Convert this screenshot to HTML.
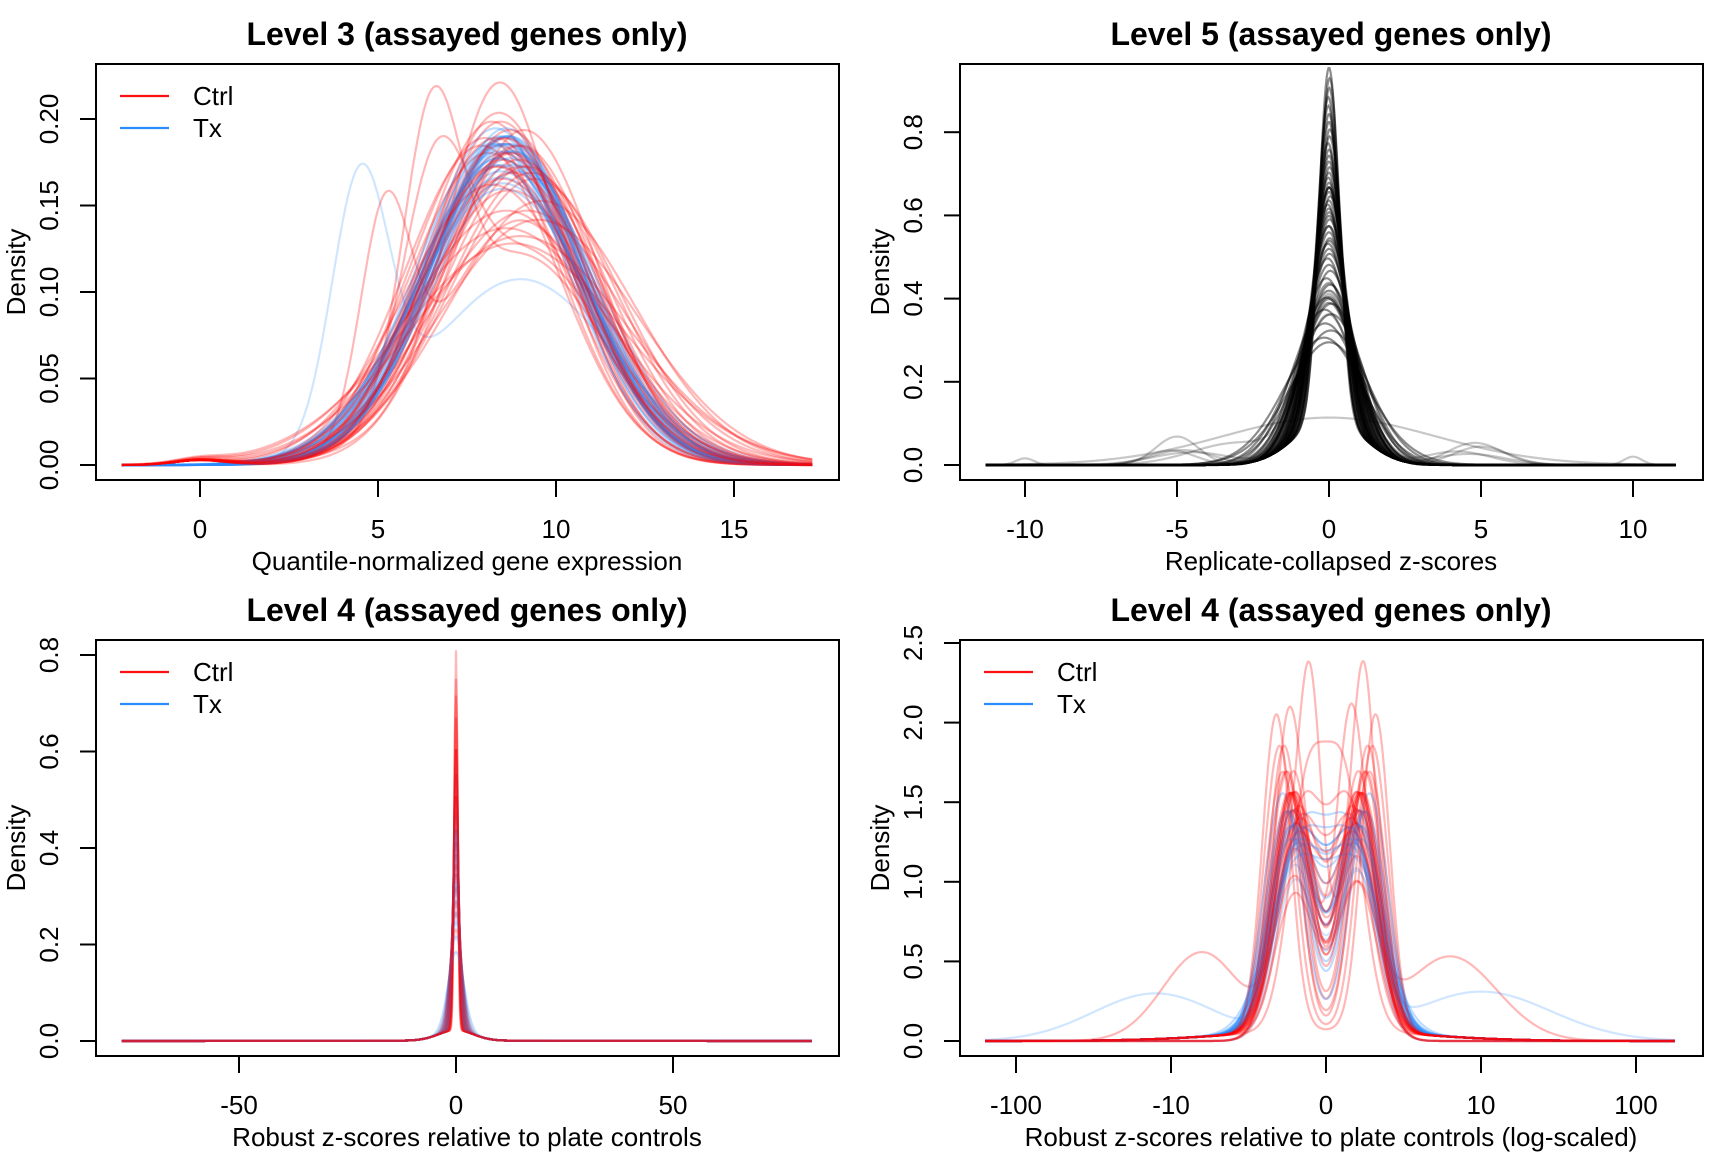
<!DOCTYPE html>
<html><head><meta charset="utf-8"><style>
html,body{margin:0;padding:0;background:#fff}
svg{display:block}
text{font-family:"Liberation Sans",sans-serif;fill:#000}
.t{font-weight:bold;font-size:32px}
.tk{font-size:26px}
.lb{font-size:26px}
</style></head><body>
<svg id="fig" width="1728" height="1152" viewBox="0 0 1728 1152" xmlns="http://www.w3.org/2000/svg"></svg>
<script>
// ---- Level 3 data (mean, sd of each density curve) ----
const l3CtrlMean=[8.6,8.4,8.8,8.2,9.0,8.5,8.7,9.2,8.0,8.9,8.3,9.4,8.6,8.8,8.4,9.1,8.1,9.6,8.5,8.7,7.9,9.3,8.6,9.0,8.2,8.95,8.45,9.5,8.3,8.8,8.55,9.15,8.7,8.5,9.0,8.4];
const l3CtrlSd=[2.1,2.15,2.2,2.0,2.3,2.4,2.5,2.7,2.1,2.15,2.3,2.4,2.9,3.1,1.95,2.05,2.2,2.6,2.2,2.05,2.15,2.35,2.7,3.0,2.45,2.25,2.0,2.8,2.1,2.35,2.1,2.3,2.2,2.25,2.15,2.3];
const l3TxMean=[8.5,8.6,8.4,8.7,8.3,8.8,8.55,8.45,8.65,8.35,8.75,8.5,8.6,8.4,8.2,8.9,8.5,8.7,8.3,8.6,8.45,8.55,8.8,8.4,8.6,8.5,8.7,8.4];
const l3TxSd=[2.15,2.1,2.2,2.25,2.05,2.3,2.15,2.35,2.1,2.15,2.2,2.45,2.05,2.25,2.15,2.35,2.5,2.1,2.3,2.15,2.4,2.1,2.2,2.25,2.2,2.3,2.15,2.1];
const l3OutMean1=[6.5,4.5,5.2,8.3,6.6];
const l3OutSd1=[0.8,0.8,0.7,1.3,0.9];
const l3OutW1=[0.3,0.3,0.22,0.45,0.25];
const l3OutMean2=[9.0,9.0,9.0,9.2,9.0];
const l3OutSd2=[2.3,2.6,2.2,2.5,2.4];
const l3OutGroup=["ctrl","tx","ctrl","ctrl","ctrl"];
// ---- Level 5 data ----
const l5Sd=[0.33,0.34,0.36,0.38,0.40,0.42,0.44,0.46,0.48,0.50,0.52,0.54,0.56,0.58,0.60,0.62,0.64,0.66,0.68,0.70,0.72,0.75,0.78,0.82,0.86,0.90,0.95,1.0,1.05,1.1,1.2,1.3,1.4,1.5,0.45,0.5,0.55,0.6,0.65,0.5,0.47,0.53,0.57,0.43,0.39,0.41,0.37,0.35,0.49,0.51];
const l5Mean=[0,0.02,-0.02,0,0.03,-0.03,0,0.02,-0.02,0,0.04,-0.04,0,0.02,-0.02,0,0.03,-0.03,0,0.02,-0.05,0,0.05,-0.1,0.05,0,-0.1,0.1,-0.2,0.1,-0.2,0.1,-0.3,0,0,0.01,-0.01,0,0.02,0,0,0,0,0,0,0.02,-0.02,0.01,0,0];
const l5OutBumpMean=[-5,-4.8,5,4.6,-5.2,4.8,-3,10,-10,-4.5,4.2];
const l5OutBumpW=[0.12,0.09,0.1,0.08,0.07,0.12,0.2,0.015,0.012,0.1,0.09];
const l5OutBumpSd=[0.7,1.0,0.9,1.2,0.8,0.9,1.5,0.3,0.3,1.3,1.1];
const l5FlatSd=[3.5];
// ---- Level 4 (linear) data ----
const l4CtrlSd=[0.37,0.42,0.45,0.5,0.55,0.6,0.7,0.8,0.9,1.0,1.2,1.4,0.5,0.65,0.75,0.4,0.85,1.1,0.6];
const l4TxSd=[0.5,0.55,0.6,0.7,0.8,0.9,1.0,1.1,1.3,1.5,0.65,0.75,0.85,0.95,1.2,0.7,1.8];
const l4TailSd=[4,30];
const l4TailW=[0.22,0.05];
// ---- Level 4 (log-scaled) data: symmetric bimodal (+/-m, s) ----
const l4lCtrlM=[0.2,0.22,0.18,0.25,0.2,0.28,0.15,0.23,0.21,0.3,0.19,0.24,0.26,0.17,0.22,0.32,0.2,0.27,0.12,0.21,0.2,0.23,0.18,0.22];
const l4lCtrlS=[0.12,0.12,0.13,0.11,0.14,0.11,0.13,0.12,0.12,0.1,0.15,0.12,0.11,0.14,0.13,0.09,0.12,0.1,0.12,0.11,0.13,0.12,0.14,0.12];
const l4lTxM=[0.2,0.22,0.18,0.24,0.2,0.26,0.16,0.23,0.21,0.19,0.25,0.17,0.22,0.2,0.28,0.18,0.21,0.23,0.19];
const l4lTxS=[0.14,0.13,0.15,0.13,0.16,0.13,0.15,0.14,0.13,0.17,0.13,0.16,0.14,0.18,0.12,0.15,0.14,0.15,0.16];
const l4lOutM=[-0.1,0.25,-0.8,0.8,-1.1,1.0,-0.25,0.15];
const l4lOutS=[0.07,0.07,0.25,0.3,0.4,0.45,0.08,0.08];
const l4lOutW=[0.25,0.22,0.35,0.4,0.3,0.35,0.18,0.18];
const l4lOutGroup=["ctrl","ctrl","ctrl","ctrl","tx","tx","ctrl","ctrl"];
// ---- tick labels ----
const l3YTicks=[0,0.05,0.10,0.15,0.20], l3YLab=["0.00","0.05","0.10","0.15","0.20"];
const l3XTicks=[0,5,10,15];
const l5YTicks=[0,0.2,0.4,0.6,0.8], l5YLab=["0.0","0.2","0.4","0.6","0.8"];
const l5XTicks=[-10,-5,0,5,10];
const l4YTicks=[0,0.2,0.4,0.6,0.8], l4YLab=["0.0","0.2","0.4","0.6","0.8"];
const l4XTicks=[-50,0,50];
const l4lYTicks=[0,0.5,1.0,1.5,2.0,2.5], l4lYLab=["0.0","0.5","1.0","1.5","2.0","2.5"];
const l4lXTicks=[-2,-1,0,1,2], l4lXLab=["-100","-10","0","10","100"];

const NS="http://www.w3.org/2000/svg";
const svg=document.getElementById('fig');
const RED="rgba(255,0,0,0.28)", BLUE="rgba(40,140,255,0.3)", BLACK="rgba(0,0,0,0.45)";
function el(tag,attrs,parent){const e=document.createElementNS(NS,tag);for(const k in attrs)e.setAttribute(k,attrs[k]);(parent||svg).appendChild(e);return e;}
function npdf(x,m,s){const z=(x-m)/s;return Math.exp(-0.5*z*z)/(s*2.5066283);}
function dens(x,comps){let d=0;for(const c of comps)d+=c.w*npdf(x,c.m,c.s);return d;}

function panel(cfg){
  const g=el('g',{});
  
  
  const L=cfg.ox+96,R=cfg.ox+839,T=cfg.oy+64,B=cfg.oy+480;
  const X=v=>cfg.ox+cfg.x0+v*cfg.kx, Y=d=>cfg.oy+cfg.y0-d*cfg.ky;
  const clip=el('clipPath',{id:'c'+cfg.name},g);
  el('rect',{x:L,y:T,width:R-L,height:B-T},clip);
  const cg=el('g',{'clip-path':'url(#c'+cfg.name+')'},g);
  
  
  cfg.curves.forEach(cv=>{
    let d='';const n=700;
    for(let i=0;i<=n;i++){const v=cfg.dmin+(cfg.dmax-cfg.dmin)*i/n;d+=(i?'L':'M')+X(v).toFixed(1)+','+Y(dens(v,cv.comps)).toFixed(1);}
    const p=el('path',{d:d,fill:'none',stroke:cv.col,'stroke-width':2.2},cg);
    
    
  });
  const box=el('rect',{x:L,y:T,width:R-L,height:B-T,fill:'none',stroke:'#000','stroke-width':2},g);
  
  
  const yt=cfg.yTicks;
  el('line',{x1:L,x2:L,y1:Y(yt[0]),y2:Y(yt[yt.length-1]),stroke:'#000','stroke-width':2},g);
  yt.forEach((v,i)=>{el('line',{x1:L-16,x2:L,y1:Y(v),y2:Y(v),stroke:'#000','stroke-width':2},g);
    const t=el('text',{class:'tk','text-anchor':'middle',transform:`translate(${cfg.ox+58},${Y(v)}) rotate(-90)`},g);
    
    
    t.textContent=cfg.yLab[i];});
  const xt=cfg.xTicks;
  el('line',{x1:X(xt[0]),x2:X(xt[xt.length-1]),y1:B,y2:B,stroke:'#000','stroke-width':2},g);
  xt.forEach((v,i)=>{el('line',{x1:X(v),x2:X(v),y1:B,y2:B+17,stroke:'#000','stroke-width':2},g);
    const t=el('text',{class:'tk','text-anchor':'middle',x:X(v),y:cfg.oy+538},g);
    
    
    t.textContent=cfg.xLab?cfg.xLab[i]:String(v);});
  const ti=el('text',{class:'t','text-anchor':'middle',x:cfg.ox+467,y:cfg.oy+45},g);
  
  
  ti.textContent=cfg.title;
  const xl=el('text',{class:'lb','text-anchor':'middle',x:cfg.ox+467,y:cfg.oy+570},g);
  
  
  xl.textContent=cfg.xTitle;
  const yl=el('text',{class:'lb','text-anchor':'middle',transform:`translate(${cfg.ox+25},${cfg.oy+272}) rotate(-90)`},g);
  
  
  yl.textContent='Density';
  if(cfg.legend){
    const lg=el('g',{},g);
    
    
    [["Ctrl","#ff1010",96],["Tx","#2a8cff",128]].forEach(([lab,c,yy])=>{
      el('line',{x1:cfg.ox+120,x2:cfg.ox+169,y1:cfg.oy+yy,y2:cfg.oy+yy,stroke:c,'stroke-width':2.2},lg);
      const t=el('text',{class:'lb',x:cfg.ox+193,y:cfg.oy+yy+9},lg);
      
      
      t.textContent=lab;});
  }
}
function interleave(a,b){const r=[];const n=Math.max(a.length,b.length);for(let i=0;i<n;i++){if(i<a.length)r.push(a[i]);if(i<b.length)r.push(b[i]);}return r;}

// Level 3 curves
const l3c=l3CtrlMean.map((m,i)=>({col:RED,comps:[{m:m,s:l3CtrlSd[i],w:0.995},{m:0,s:0.7,w:0.005}]}));
const l3t=l3TxMean.map((m,i)=>({col:BLUE,comps:[{m:m,s:l3TxSd[i],w:1}]}));
const l3o=l3OutMean1.map((m,i)=>({col:l3OutGroup[i]=="tx"?"rgba(40,140,255,0.22)":RED,comps:[{m:m,s:l3OutSd1[i],w:l3OutW1[i]},{m:l3OutMean2[i],s:l3OutSd2[i],w:1-l3OutW1[i]}]}));
panel({name:'level3-panel',ox:0,oy:0,x0:200,kx:35.6,y0:465,ky:1730,dmin:-2.2,dmax:17.2,
  curves:l3o.concat(interleave(l3c,l3t)),yTicks:l3YTicks,yLab:l3YLab,xTicks:l3XTicks,
  title:'Level 3 (assayed genes only)',xTitle:'Quantile-normalized gene expression',legend:true});
// Level 5 curves
const l5c=l5Sd.map((s,i)=>({col:BLACK,comps:[{m:l5Mean[i],s:s,w:0.7},{m:0,s:1.1,w:0.3}]}));
const l5o=l5OutBumpMean.map((m,i)=>({col:"rgba(0,0,0,0.22)",comps:[{m:m,s:l5OutBumpSd[i],w:l5OutBumpW[i]},{m:0,s:0.9,w:1-l5OutBumpW[i]}]}));
const l5f=l5FlatSd.map(s=>({col:"rgba(0,0,0,0.22)",comps:[{m:0,s:s,w:1}]}));
panel({name:'level5-panel',ox:864,oy:0,x0:465,kx:30.4,y0:465,ky:416,dmin:-11.3,dmax:11.4,
  curves:l5f.concat(l5o,l5c),yTicks:l5YTicks,yLab:l5YLab,xTicks:l5XTicks,
  title:'Level 5 (assayed genes only)',xTitle:'Replicate-collapsed z-scores',legend:false});
// Level 4 linear
const l4c=l4CtrlSd.map(s=>({col:RED,comps:[{m:0,s:s,w:1-l4TailW[0]-l4TailW[1]},{m:0,s:l4TailSd[0],w:l4TailW[0]},{m:0,s:l4TailSd[1],w:l4TailW[1]}]}));
const l4t=l4TxSd.map(s=>({col:BLUE,comps:[{m:0,s:s,w:1-l4TailW[0]-l4TailW[1]},{m:0,s:l4TailSd[0],w:l4TailW[0]},{m:0,s:l4TailSd[1],w:l4TailW[1]}]}));
panel({name:'level4-linear-panel',ox:0,oy:576,x0:456,kx:4.34,y0:465,ky:482.5,dmin:-77,dmax:82,
  curves:interleave(l4t,l4c),yTicks:l4YTicks,yLab:l4YLab,xTicks:l4XTicks,
  title:'Level 4 (assayed genes only)',xTitle:'Robust z-scores relative to plate controls',legend:true});
// Level 4 log
function bim(m,s){return [{m:-m,s:s,w:0.45},{m:m,s:s,w:0.45},{m:0,s:0.6,w:0.1}];}
const l4lc=l4lCtrlM.map((m,i)=>({col:RED,comps:bim(m,l4lCtrlS[i])}));
const l4lt=l4lTxM.map((m,i)=>({col:BLUE,comps:bim(m,l4lTxS[i])}));
const l4lo=l4lOutM.map((m,i)=>({col:l4lOutGroup[i]=="tx"?"rgba(40,140,255,0.22)":RED,comps:[{m:m,s:l4lOutS[i],w:l4lOutW[i]},{m:-0.2,s:0.13,w:(1-l4lOutW[i])/2},{m:0.2,s:0.13,w:(1-l4lOutW[i])/2}]}));
panel({name:'level4-log-panel',ox:864,oy:576,x0:462,kx:155,y0:465,ky:159.2,dmin:-2.2,dmax:2.25,
  curves:l4lo.concat(interleave(l4lt,l4lc)),yTicks:l4lYTicks,yLab:l4lYLab,xTicks:l4lXTicks,xLab:l4lXLab,
  title:'Level 4 (assayed genes only)',xTitle:'Robust z-scores relative to plate controls (log-scaled)',legend:true});
</script>
</body></html>
